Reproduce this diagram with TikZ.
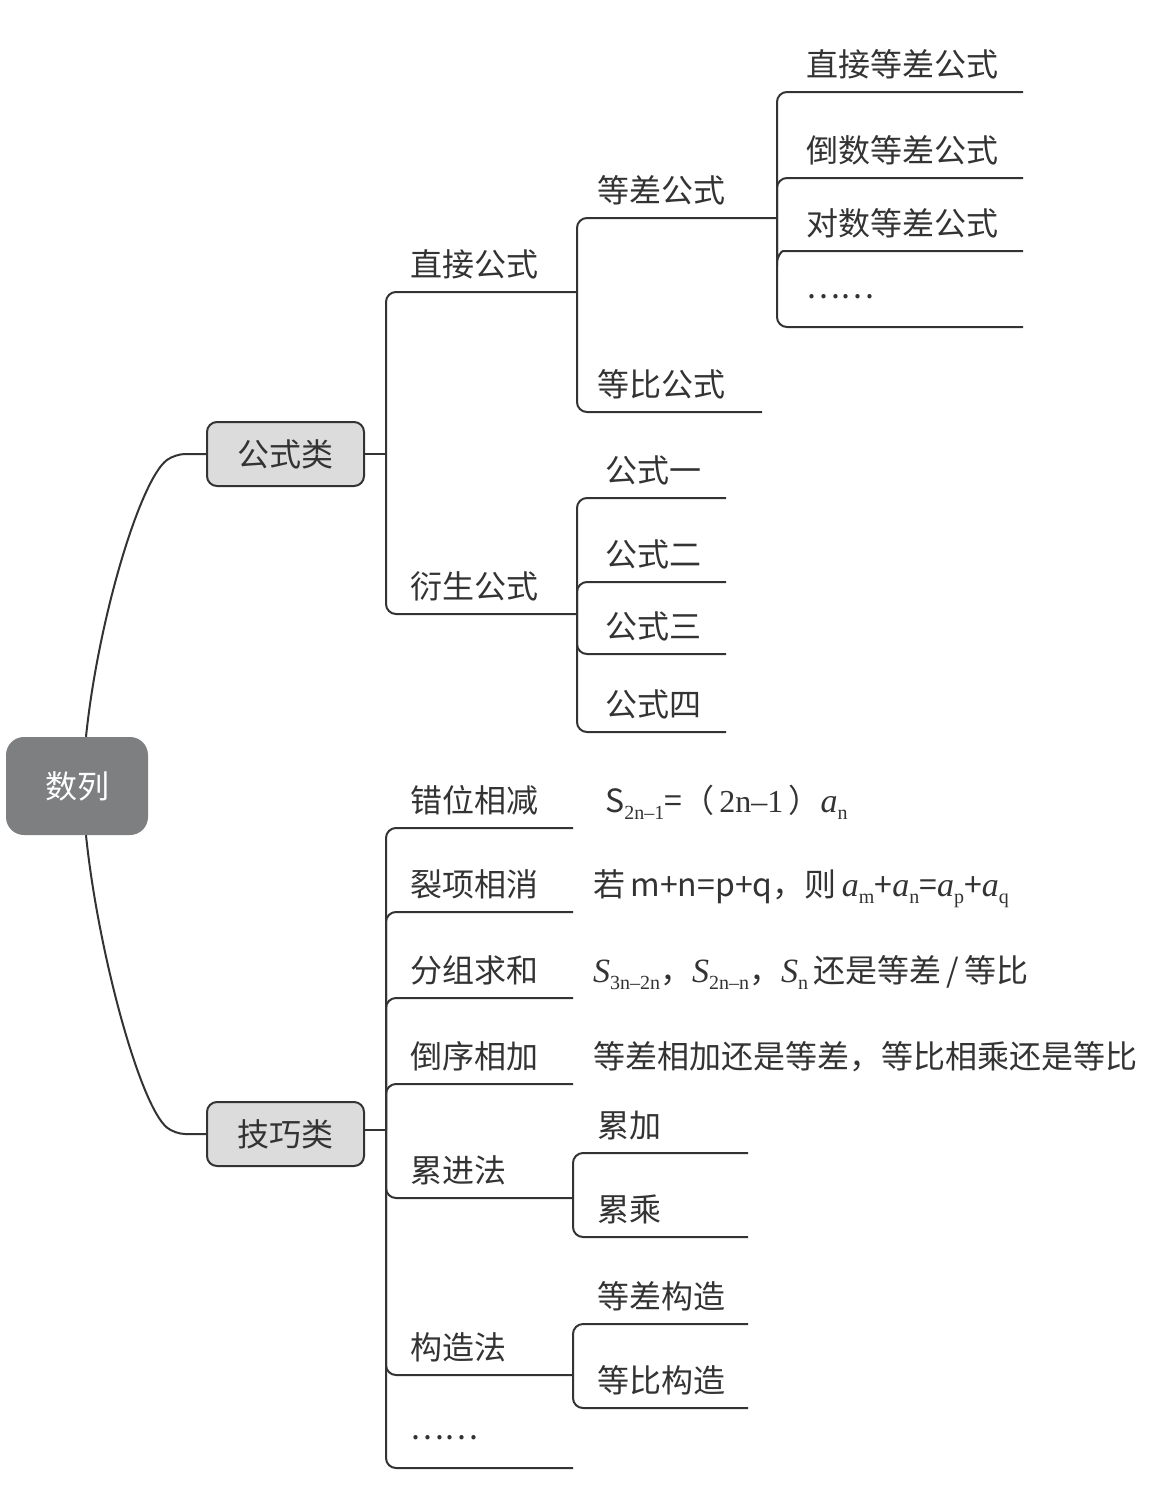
\documentclass[tikz,border=0pt]{standalone}
\usepackage{fontspec}
\setmainfont{Noto Sans CJK SC}
\newfontfamily\tms{Liberation Serif}
\definecolor{ink}{HTML}{333333}
\definecolor{rootfill}{HTML}{7E7F81}
\definecolor{boxfill}{HTML}{DCDCDD}
\newcommand{\tsub}[1]{\raisebox{-0.22em}{\fontsize{20}{20}\selectfont\tms #1}}
\newcommand{\tit}[1]{{\fontsize{34}{38}\selectfont\tms\itshape #1}}
\newcommand{\ta}[1]{\tit{a}\tsub{#1}}
\newcommand{\tS}[1]{\tit{S}\tsub{#1}}
\newcommand{\cdotsline}{\raisebox{0.38em}{……}}
\tikzset{
  conn/.style={draw=ink, line width=2pt, rounded corners=10pt},
  lbl/.style={anchor=base west, inner sep=0pt, text=ink, font=\fontsize{32}{38}\selectfont},
  rootbox/.style={fill=rootfill, rounded corners=18pt, minimum width=142pt, minimum height=98pt,
    inner sep=0pt, text=white, font=\fontsize{32}{38}\selectfont},
  catbox/.style={draw=ink, line width=2pt, fill=boxfill, rounded corners=10pt, minimum width=157pt,
    minimum height=64pt, inner sep=0pt, text=ink, font=\fontsize{32}{38}\selectfont}
}
\begin{document}
\begin{tikzpicture}[x=1pt,y=-1pt]
\useasboundingbox (0,0) rectangle (1160,1499);
% root and categories
\node[rootbox] (root) at (77,786) {数列};
\node[catbox] (gsl) at (285.5,454) {公式类};
\node[catbox] (jql) at (285.5,1134) {技巧类};
\draw[conn] ([xshift=9pt]root.north) .. controls (98,620) and (140,480) .. (175,454) -- (gsl.west);
\draw[conn] ([xshift=9pt]root.south) .. controls (98,952) and (140,1106) .. (175,1134) -- (jql.west);
\coordinate (gsl-j) at (386,454);
\coordinate (jql-j) at (386,1130);
\draw[conn] (gsl.east) -- (gsl-j);
\draw[conn] (jql.east |- jql-j) -- (jql-j);

% ---- 公式类 ----
\node[lbl] (zjgs) at (410,276) {直接公式}; \coordinate (zjgs-e) at (577,292);
\node[lbl] (ysgs) at (410,598) {衍生公式}; \coordinate (ysgs-e) at (577,614);
\draw[conn] (gsl-j) |- (zjgs-e);
\draw[conn] (gsl-j) |- (ysgs-e);

\node[lbl] (dcgs) at (597,202) {等差公式}; \coordinate (dcgs-e) at (777,218);
\node[lbl] (dbgs) at (597,396) {等比公式}; \coordinate (dbgs-e) at (762,412);
\draw[conn] (zjgs-e) |- (dcgs-e);
\draw[conn] (zjgs-e) |- (dbgs-e);

\node[lbl] (d1) at (806,76) {直接等差公式}; \coordinate (d1-e) at (1023,92);
\node[lbl] (d2) at (806,162) {倒数等差公式}; \coordinate (d2-e) at (1023,178);
\node[lbl] (d3) at (806,235) {对数等差公式}; \coordinate (d3-e) at (1023,251);
\node[lbl] (d4) at (806,311) {\cdotsline}; \coordinate (d4-e) at (1023,327);
\draw[conn] (dcgs-e) |- (d1-e);
\draw[conn] (dcgs-e) |- (d2-e);
\draw[conn] (dcgs-e) -- ++(0,54) .. controls ++(0,-14) and ++(-12,0) .. ++(16,-21) -- (d3-e);
\draw[conn] (dcgs-e) |- (d4-e);

\node[lbl] (g1) at (605,482) {公式一}; \coordinate (g1-e) at (726,498);
\node[lbl] (g2) at (605,566) {公式二}; \coordinate (g2-e) at (726,582);
\node[lbl] (g3) at (605,638) {公式三}; \coordinate (g3-e) at (726,654);
\node[lbl] (g4) at (605,716) {公式四}; \coordinate (g4-e) at (726,732);
\draw[conn] (ysgs-e) |- (g1-e);
\draw[conn] (ysgs-e) |- (g2-e);
\draw[conn] (ysgs-e) |- (g3-e);
\draw[conn] (ysgs-e) |- (g4-e);

% ---- 技巧类 ----
\node[lbl] (cwxj) at (410,812) {错位相减}; \coordinate (cwxj-e) at (573,828);
\node[lbl] (lxxx) at (410,896) {裂项相消}; \coordinate (lxxx-e) at (573,912);
\node[lbl] (fzqh) at (410,982) {分组求和}; \coordinate (fzqh-e) at (573,998);
\node[lbl] (dxxj) at (410,1068) {倒序相加}; \coordinate (dxxj-e) at (573,1084);
\node[lbl] (ljf) at (410,1182) {累进法}; \coordinate (ljf-e) at (573,1198);
\node[lbl] (gzf) at (410,1359) {构造法}; \coordinate (gzf-e) at (573,1375);
\node[lbl] (jqd) at (410,1452) {\cdotsline}; \coordinate (jqd-e) at (573,1468);
\foreach \n in {cwxj,lxxx,fzqh,dxxj,ljf,gzf,jqd} \draw[conn] (jql-j) |- (\n-e);

\node[lbl] (lj) at (597,1137) {累加}; \coordinate (lj-e) at (748,1153);
\node[lbl] (lc) at (597,1221) {累乘}; \coordinate (lc-e) at (748,1237);
\draw[conn] (ljf-e) |- (lj-e);
\draw[conn] (ljf-e) |- (lc-e);

\node[lbl] (dcgz) at (597,1308) {等差构造}; \coordinate (dcgz-e) at (748,1324);
\node[lbl] (dbgz) at (597,1392) {等比构造}; \coordinate (dbgz-e) at (748,1408);
\draw[conn] (gzf-e) |- (dcgz-e);
\draw[conn] (gzf-e) |- (dbgz-e);

% formulas
\node[lbl] (f1) at (605,812) {S\tsub{2n–1}=（\,{\tms 2n–1}\,）\tit{a}\tsub{n}};
\node[lbl] (f2) at (593,896) {若\,m+n=p+q，则\,\ta{m}+\ta{n}=\ta{p}+\ta{q}};
\node[lbl] (f3) at (593,982) {\tS{3n–2n}，\tS{2n–n}，\tS{n}\,还是等差\,/\,等比};
\node[lbl] (f4) at (593,1068) {等差相加还是等差，等比相乘还是等比};
\end{tikzpicture}
\end{document}
